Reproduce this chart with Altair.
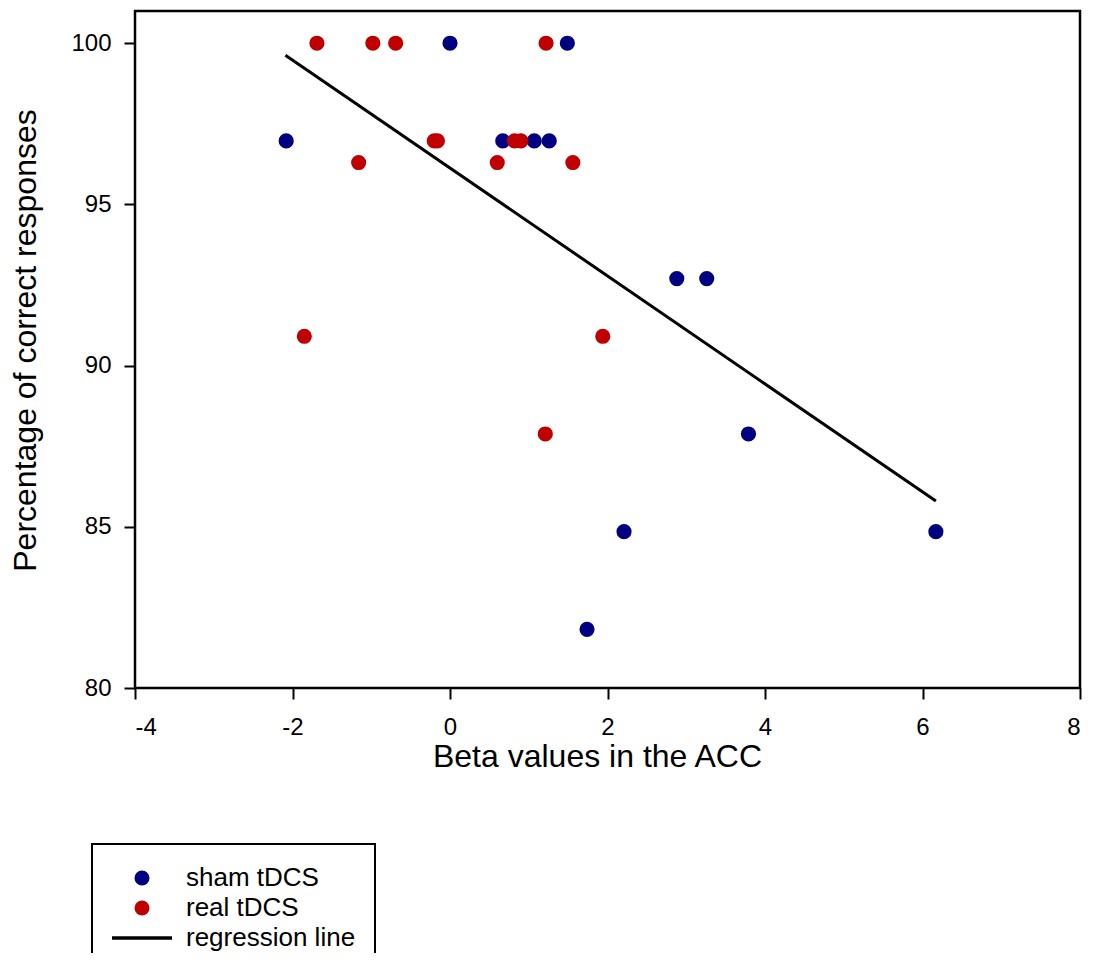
import altair as alt
import pandas as pd

# ---- data ----
sham_x = [-2.08, 0.00, 1.49, 0.67, 1.07, 1.26, 2.88, 3.26, 3.79, 2.21, 6.17, 1.74]
sham_y = [96.97, 100.0, 100.0, 96.97, 96.97, 96.97, 92.70, 92.70, 87.88, 84.85, 84.85, 81.82]
real_x = [-1.69, -0.98, -0.69, 1.22, -0.20, -0.16, -1.16, 0.60, 0.82, 0.90, 1.56, -1.85, 1.94, 1.21]
real_y = [100.0, 100.0, 100.0, 100.0, 96.97, 96.97, 96.30, 96.30, 96.97, 96.97, 96.30, 90.91, 90.91, 87.88]
line_x = [-2.09, 6.17]
line_y = [99.63, 85.80]

series_names = ["sham tDCS", "real tDCS", "regression line"]
series_colors = ["#000080", "#C00000", "#000000"]
x_ticks = [-4, -2, 0, 2, 4, 6, 8]
y_ticks = [80, 85, 90, 95, 100]

FONT = "Liberation Sans"

pts = pd.DataFrame({
    "beta": sham_x + real_x,
    "pct": sham_y + real_y,
    "series": ["sham tDCS"] * len(sham_x) + ["real tDCS"] * len(real_x),
})
line_df = pd.DataFrame({"beta": line_x, "pct": line_y})

xscale = alt.Scale(domain=[-4, 8], nice=False, zero=False)
yscale = alt.Scale(domain=[80, 101], nice=False, zero=False)

xaxis = alt.Axis(values=x_ticks, title="Beta values in the ACC", labelPadding=16,
                 labelExpr="datum.value + ''",
                 titleX=462, titleY=78, titleBaseline="alphabetic", titleAlign="center")
yaxis = alt.Axis(values=y_ticks, title="Percentage of correct responses", labelPadding=13,
                 labelExpr="datum.value + ''",
                 titleX=-100, titleY=329, titleBaseline="alphabetic", titleAlign="center",
                 titleAngle=270)

legend = alt.Legend(title=None, orient="none", legendX=-43, legendY=833, padding=19,
                    strokeColor="black", fillColor="white", labelFont=FONT,
                    labelFontSize=26, labelColor="black", labelOffset=31, symbolOffset=18,
                    clipHeight=30, rowPadding=0, symbolStrokeWidth=3.5, symbolSize=225,
                    labelBaseline="middle", labelLimit=500, symbolOpacity=1)

points = alt.Chart(pts).mark_point(filled=True, opacity=1, size=230).encode(
    x=alt.X("beta:Q", scale=xscale, axis=xaxis),
    y=alt.Y("pct:Q", scale=yscale, axis=yaxis),
    color=alt.Color("series:N", scale=alt.Scale(domain=series_names, range=series_colors), legend=legend),
    stroke=alt.Stroke("series:N", scale=alt.Scale(domain=series_names,
                      range=["transparent", "transparent", "#000000"]), legend=legend),
    shape=alt.Shape("series:N", scale=alt.Scale(domain=series_names,
                    range=["circle", "circle", "M-4,0H4"]), legend=legend),
)

reg = alt.Chart(line_df).mark_line(color="black", strokeWidth=3).encode(
    x=alt.X("beta:Q", scale=xscale),
    y=alt.Y("pct:Q", scale=yscale),
)

chart = alt.layer(reg, points).properties(
    width=945, height=677,
    background="white",
    autosize=alt.AutoSizeParams(type="none"),
    padding={"left": 127, "top": 3, "right": 5, "bottom": 265},
).configure_view(
    stroke="black", strokeWidth=2.5, fill="white"
).configure_axis(
    domain=False, grid=False, tickColor="black", tickWidth=2, tickSize=11,
    labelFont=FONT, labelFontSize=24, labelColor="black",
    titleFont=FONT, titleFontSize=32, titleFontWeight="normal", titleColor="black",
).configure_legend(
    strokeWidth=2
)

chart.save("out.html", embed_options={"renderer": "svg", "actions": False})
